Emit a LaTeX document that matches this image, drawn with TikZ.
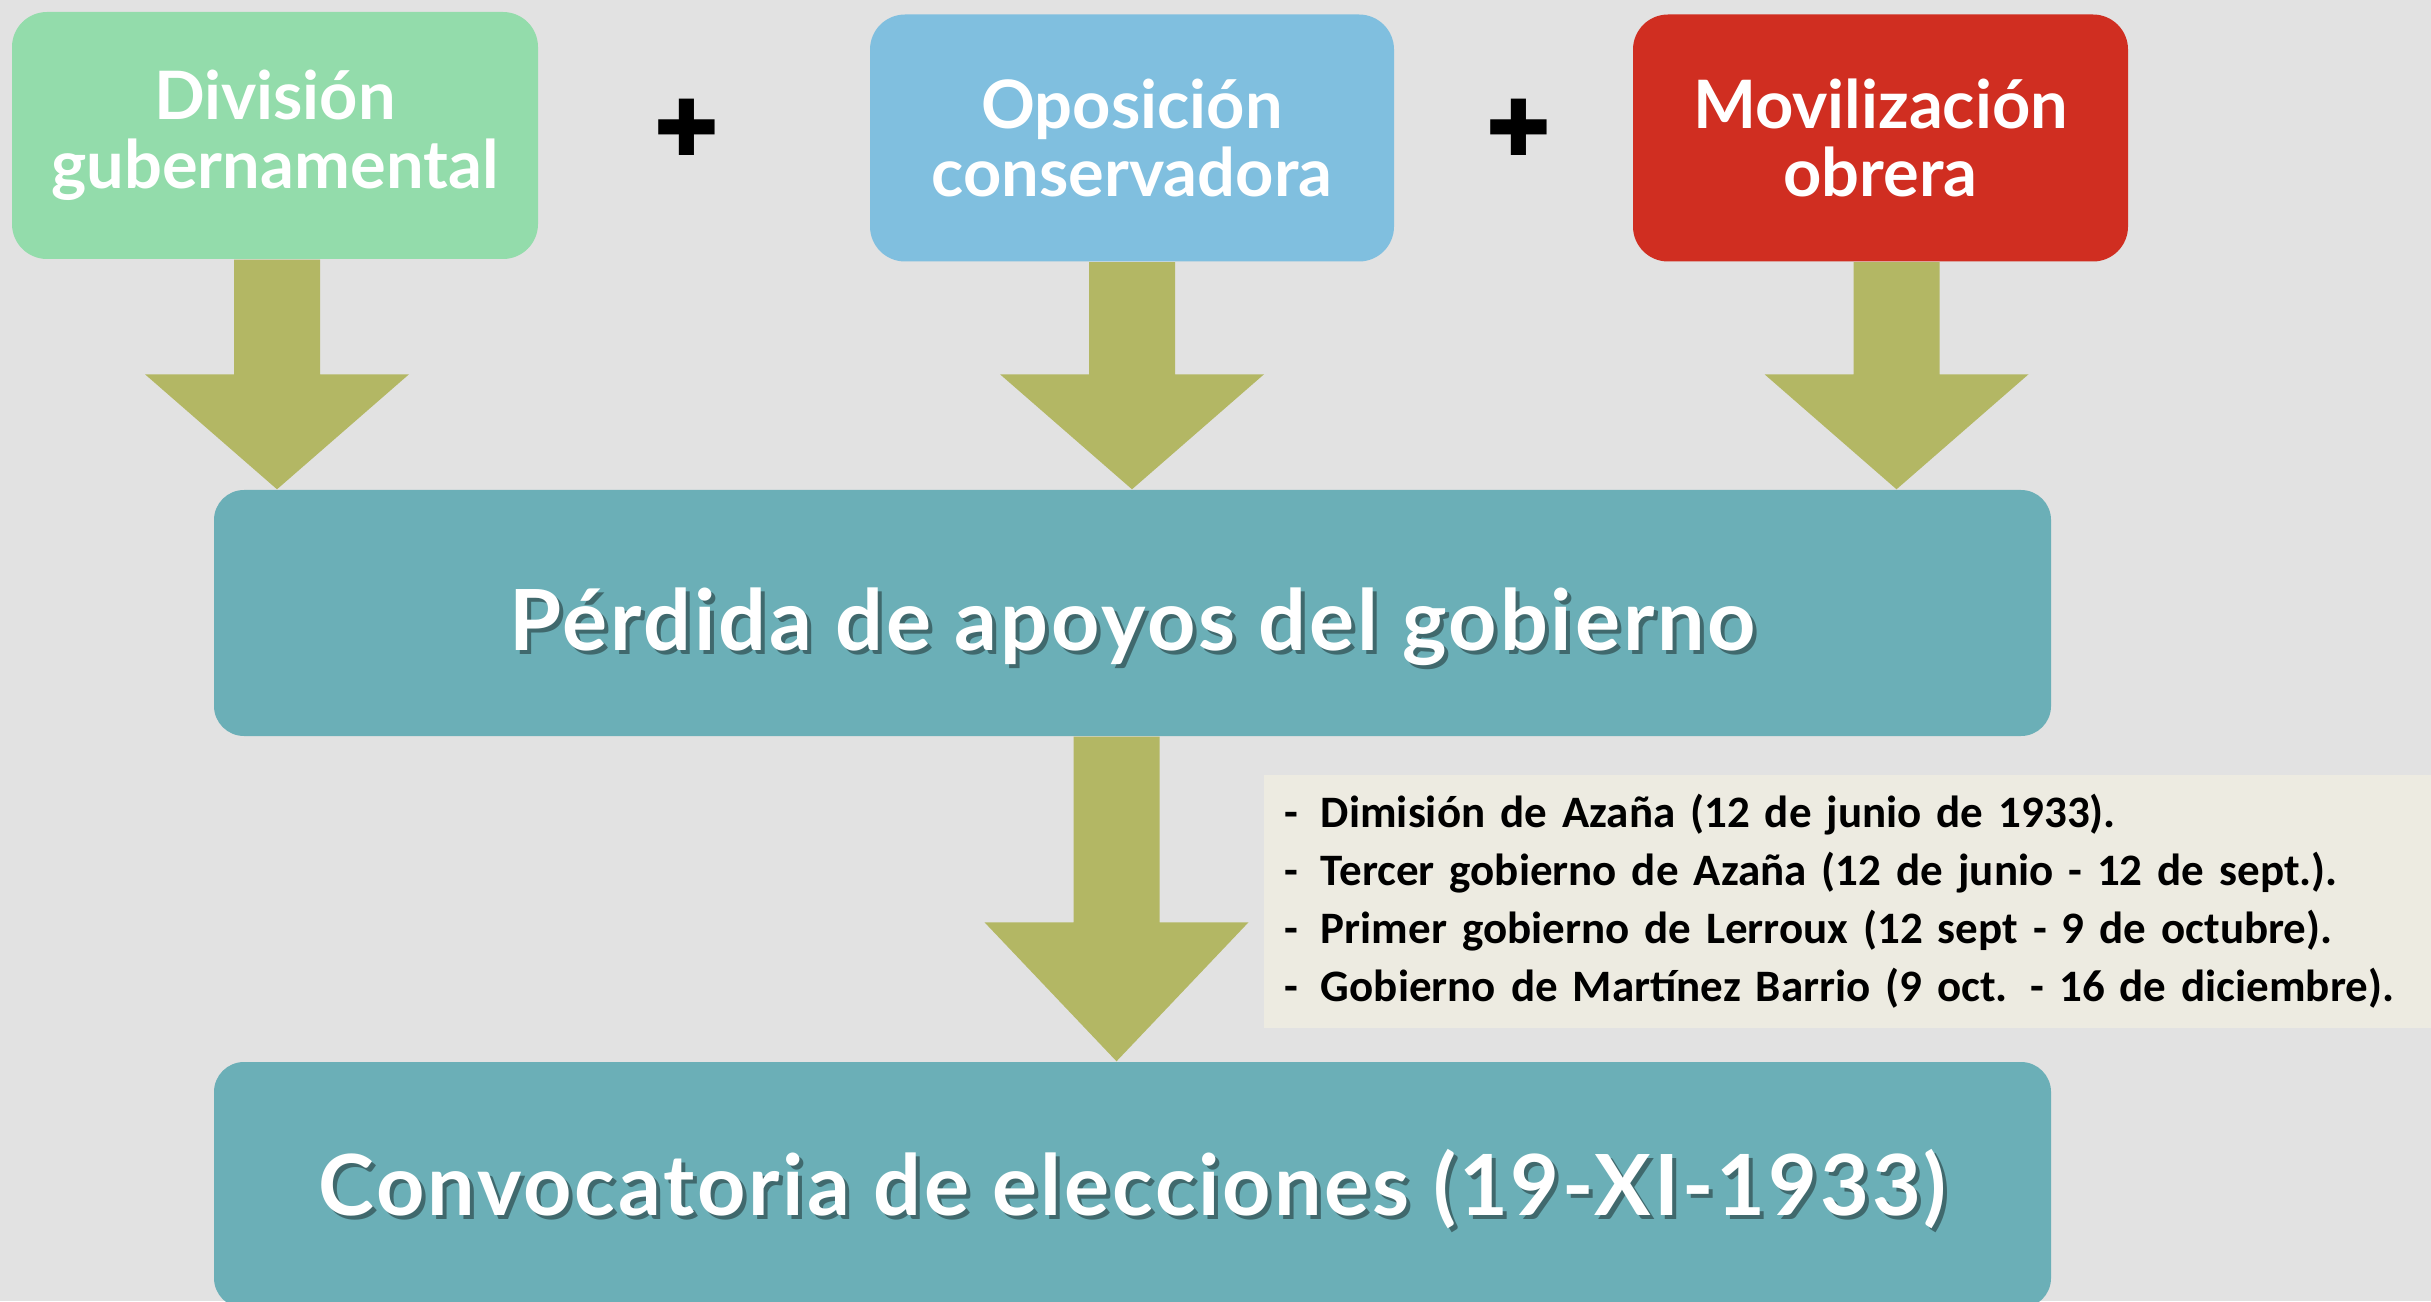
\documentclass[tikz,border=0pt]{standalone}
\usepackage{fontspec}
\setmainfont{Lato}
\newfontfamily\listfont{Carlito}
\newfontfamily\crossfont{DejaVu Sans}
\newfontfamily\titlefont[LetterSpace=3.4]{Lato}
\usetikzlibrary{calc}

\definecolor{paper}{RGB}{226,226,226}
\definecolor{green_box}{RGB}{147,220,171}
\definecolor{blue_box}{RGB}{128,191,223}
\definecolor{red_box}{RGB}{208,46,33}
\definecolor{teal_box}{RGB}{107,175,183}
\definecolor{arrow_olive}{RGB}{179,183,100}
\definecolor{list_fill}{RGB}{237,235,225}

% block arrow: from node, to node, x shift, head length
\newcommand{\bigarrow}[4]{%
  \fill[arrow_style] let \p1=($(#1.south)+(#3,0)$), \p2=(#2.north) in
    (\x1-0.43cm,\y1) -- (\x1+0.43cm,\y1) -- (\x1+0.43cm,\y2+#4) -- (\x1+1.32cm,\y2+#4)
    -- (\x1,\y2) -- (\x1-1.32cm,\y2+#4) -- (\x1-0.43cm,\y2+#4) -- cycle;}

\begin{document}
\begin{tikzpicture}[
		top_box/.style={rounded corners=0.35cm,minimum height=2.47cm,align=center,text=white,
			font=\fontsize{19}{19.5}\selectfont\bfseries},
		big_box/.style={fill=teal_box,rounded corners=0.3cm,minimum width=18.37cm,minimum height=2.46cm},
		title_style/.style={text=white,font=\titlefont\fontsize{24}{28}\selectfont\bfseries},
		shadow_style/.style={text=black,opacity=0.4,font=\titlefont\fontsize{24}{28}\selectfont\bfseries},
		list_style/.style={fill=list_fill,minimum height=2.53cm,text width=11.27cm,inner xsep=0.2cm,
			align=left,font=\listfont\fontsize{12.8}{16.5}\selectfont\bfseries},
		plus_style/.style={font=\crossfont\fontsize{22}{22}\selectfont},
		arrow_style/.style={fill=arrow_olive}]

		\clip (0,0) rectangle (24.31,13.01);
		\fill[paper] (0,0) rectangle (24.31,13.01);

		\node[top_box,fill=green_box,minimum width=5.26cm] (div) at (2.75,11.655) {División\\gubernamental};
		\node[top_box,fill=blue_box,minimum width=5.24cm] (opo) at (11.32,11.63) {Oposición\\conservadora};
		\node[top_box,fill=red_box,minimum width=4.95cm] (mov) at (18.805,11.63) {Movilización\\obrera};
		\node[plus_style] (plus1) at (6.87,11.74) {✚};
		\node[plus_style] (plus2) at (15.19,11.74) {✚};

		\node[big_box] (loss) at (11.325,6.88) {};
		\node[big_box] (call) at (11.325,1.16) {};

		\node[shadow_style] (loss_sh) at ($(loss)+(0.04,-0.18)$) {Pérdida de apoyos del gobierno};
		\node[title_style] (loss_txt) at ($(loss)+(0,-0.14)$) {Pérdida de apoyos del gobierno};
		\node[shadow_style] (call_sh) at ($(call)+(0.04,-0.08)$) {Convocatoria de elecciones (19-XI-1933)};
		\node[title_style] (call_txt) at ($(call)+(0,-0.04)$) {Convocatoria de elecciones (19-XI-1933)};

		\node[list_style] (list) at (18.475,3.995) {%
			\makebox[0.37cm][l]{-}Dimisión de Azaña (12 de junio de 1933).\\
			\makebox[0.37cm][l]{-}Tercer gobierno de Azaña (12 de junio - 12 de sept.).\\
			\makebox[0.37cm][l]{-}Primer gobierno de Lerroux (12 sept - 9 de octubre).\\
			\makebox[0.37cm][l]{-}Gobierno de Martínez Barrio (9 oct. - 16 de diciembre).};

		\bigarrow{div}{loss}{0.02}{1.15cm}
		\bigarrow{opo}{loss}{0}{1.15cm}
		\bigarrow{mov}{loss}{0.16}{1.15cm}
		\bigarrow{loss}{call}{-0.16}{1.39cm}

\end{tikzpicture}
\end{document}
